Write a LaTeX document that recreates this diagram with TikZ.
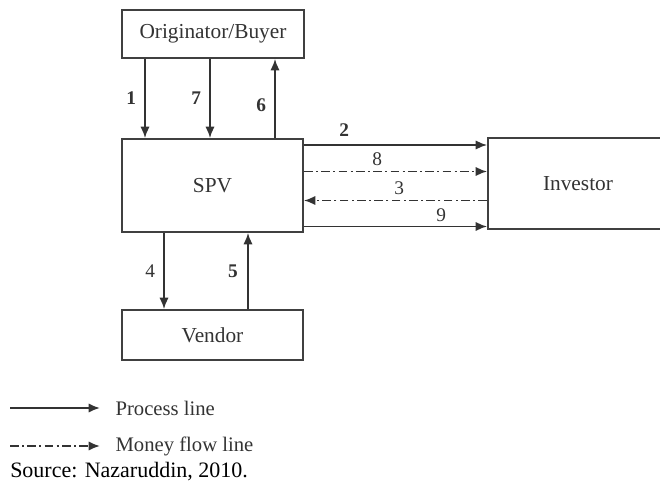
\documentclass[tikz,border=0pt]{standalone}
\usepackage{fontspec}
\setmainfont{Liberation Serif}
\usetikzlibrary{arrows.meta}

\begin{document}
\begin{tikzpicture}[x=0.75pt,y=-0.75pt,
  party/.style={draw=black!75, line width=1.4pt, inner sep=0pt, font=\fontsize{16}{18}\selectfont, text=black!80},
  proc/.style={draw=black!80, line width=1.4pt, -{Latex[length=8.5pt,width=7pt]}},
  money/.style={proc, dash pattern=on 6.5pt off 2.5pt on 1.5pt off 2.5pt},
  lab/.style={font=\fontsize{14.5}{16}\selectfont, text=black!80, inner sep=1pt},
  blab/.style={lab, font=\fontsize{14.5}{16}\bfseries}]
\useasboundingbox (0,0) rectangle (660,481);
% boxes
\node[party, minimum width=136.5pt, minimum height=36pt] (buyer) at (213,34) {Originator/Buyer};
\node[party, minimum width=135.75pt, minimum height=69.75pt] (spv) at (212.5,185.5) {SPV};
\node[party, minimum width=135pt, minimum height=68.25pt] (investor) at (578,183.5) {Investor};
\node[party, minimum width=135.75pt, minimum height=37.5pt] (vendor) at (212.5,335) {Vendor};
% x and y positions of the connectors
\coordinate (x1) at (145,0);
\coordinate (x7) at (210,0);
\coordinate (x6) at (275,0);
\coordinate (x4) at (164,0);
\coordinate (x5) at (248,0);
\coordinate (y2) at (0,145);
\coordinate (y8) at (0,171.5);
\coordinate (y3) at (0,200.5);
\coordinate (y9) at (0,226.5);
% originator and spv
\draw[proc] (buyer.south -| x1) -- node[blab, left=5pt] {1} (spv.north -| x1);
\draw[proc] (buyer.south -| x7) -- node[blab, left=5pt] {7} (spv.north -| x7);
\draw[proc] (spv.north -| x6) -- node[blab, left=5pt, pos=0.42] {6} (buyer.south -| x6);
% spv and investor
\draw[proc] (spv.east |- y2) -- node[blab, above=5pt, pos=0.22] {2} (investor.west |- y2);
\draw[money] (spv.east |- y8) -- node[lab, above=3pt, pos=0.4] {8} (investor.west |- y8);
\draw[money] (investor.west |- y3) -- node[lab, above=3pt, pos=0.48] {3} (spv.east |- y3);
\draw[proc] (spv.east |- y9) -- node[lab, above=2pt, pos=0.75] {9} (investor.west |- y9);
% spv and vendor
\draw[proc] (spv.south -| x4) -- node[lab, left=5pt] {4} (vendor.north -| x4);
\draw[proc] (vendor.north -| x5) -- node[blab, left=6pt] {5} (spv.south -| x5);
% legend
\coordinate (p1) at (10,408);
\coordinate (p2) at (100,408);
\coordinate (m1) at (10,446);
\coordinate (m2) at (100,446);
\draw[proc] (p1) -- (p2) node[right=11pt, font=\fontsize{15.5}{18}\selectfont, text=black!80, inner sep=0pt] (proctext) {Process line};
\draw[money] (m1) -- (m2) node[right=11pt, font=\fontsize{15.5}{18}\selectfont, text=black!80, inner sep=0pt] (moneytext) {Money flow line};
\node[anchor=base west, inner sep=0pt, font=\fontsize{16.5}{18}\selectfont] (source) at (10,477) {Source: Nazaruddin, 2010.};
\end{tikzpicture}
\end{document}
